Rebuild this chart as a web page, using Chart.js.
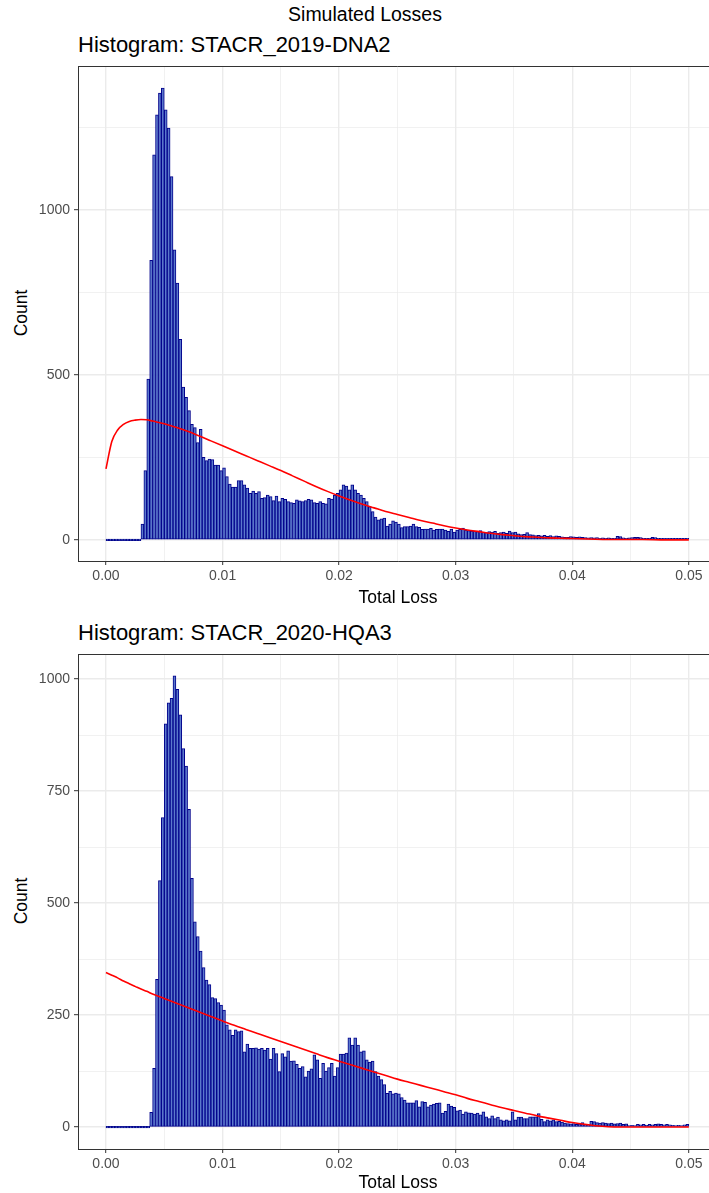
<!DOCTYPE html>
<html lang="en">
<head>
<meta charset="UTF-8">
<title>Simulated Losses</title>
<script src="https://cdn.jsdelivr.net/npm/chart.js"></script>
<style>
  body { margin: 0; width: 709px; height: 1193px; overflow: hidden; background: #fff; position: relative;
         font-family: "Liberation Sans", Arial, sans-serif; }
  .txt { position: absolute; white-space: nowrap; color: #000; line-height: 1; }
  #mainTitle { left: 365px; top: 5px; transform: translateX(-50%); font-size: 19.5px; }
  .ptitle { left: 78px; font-size: 22px; }
  .xtitle { left: 398px; transform: translateX(-50%); font-size: 17.5px; }
  .ytitle { left: 22px; transform: translate(-50%, -50%) rotate(-90deg); font-size: 17.5px; }
  canvas { position: absolute; left: 0; }
</style>
</head>
<body>

<div class="txt" id="mainTitle">Simulated Losses</div>

<div class="txt ptitle" style="top:34px">Histogram: STACR_2019-DNA2</div>
<div class="txt ytitle" style="top:313px">Count</div>
<canvas id="lossA" width="718" height="540" style="top:50px"></canvas>
<div class="txt xtitle" style="top:589px">Total Loss</div>

<div class="txt ptitle" style="top:622px">Histogram: STACR_2020-HQA3</div>
<div class="txt ytitle" style="top:901px">Count</div>
<canvas id="lossB" width="718" height="540" style="top:638px"></canvas>
<div class="txt xtitle" style="top:1174px">Total Loss</div>

<script>
  // histogram bins: 200 bins of width 0.00025 starting at 0
  const binWidth = 0.00025;

  const countsA = [
    0, 0, 0, 0, 0, 0, 0, 0, 0, 0,
    0, 0, 48, 210, 487, 847, 1167, 1288, 1354, 1369,
    1303, 1248, 1101, 879, 778, 608, 463, 432, 392, 350,
    340, 295, 335, 250, 240, 245, 243, 227, 227, 210,
    218, 192, 169, 160, 160, 180, 180, 167, 157, 141,
    148, 141, 146, 126, 128, 136, 131, 119, 133, 116,
    126, 123, 116, 113, 111, 121, 118, 116, 119, 123,
    121, 113, 111, 116, 111, 109, 126, 124, 136, 141,
    152, 167, 163, 152, 167, 152, 141, 136, 126, 116,
    101, 86, 69, 61, 64, 66, 42, 48, 58, 54,
    48, 37, 40, 40, 42, 48, 40, 38, 32, 33,
    33, 35, 30, 32, 33, 33, 30, 26, 33, 24,
    30, 32, 36, 30, 28, 27, 26, 25, 28, 24,
    22, 25, 24, 26, 20, 22, 24, 20, 27, 22,
    24, 18, 16, 17, 22, 16, 15, 13, 14, 12,
    14, 11, 13, 10, 12, 11, 9, 8, 8, 10,
    9, 8, 9, 8, 7, 6, 7, 6, 7, 5,
    6, 5, 6, 4, 5, 11, 10, 6, 5, 6,
    7, 8, 8, 7, 4, 5, 4, 8, 7, 4,
    5, 3, 4, 5, 3, 4, 3, 4, 3, 3
  ];

  const countsB = [
    0, 0, 0, 0, 0, 0, 0, 0, 0, 0,
    0, 0, 0, 0, 0, 33, 131, 330, 550, 691,
    900, 947, 957, 1007, 977, 920, 845, 806, 709, 555,
    458, 425, 393, 356, 328, 318, 289, 287, 278, 272,
    261, 228, 217, 205, 217, 213, 215, 168, 185, 176,
    176, 177, 174, 176, 172, 176, 152, 176, 164, 124,
    164, 157, 170, 147, 148, 140, 131, 135, 112, 125,
    130, 161, 150, 109, 142, 125, 133, 142, 114, 133,
    163, 163, 165, 199, 183, 199, 183, 168, 170, 150,
    145, 147, 124, 114, 106, 95, 75, 80, 74, 76,
    74, 66, 60, 54, 54, 54, 59, 45, 57, 55,
    45, 49, 51, 53, 54, 31, 35, 51, 47, 44,
    36, 38, 29, 34, 32, 31, 29, 31, 27, 34,
    23, 19, 25, 19, 22, 16, 14, 16, 14, 34,
    16, 22, 22, 19, 19, 23, 23, 23, 30, 17,
    12, 16, 14, 16, 12, 13, 11, 9, 8, 7,
    8, 6, 7, 10, 6, 5, 13, 12, 10, 9,
    10, 9, 8, 9, 7, 8, 9, 6, 7, 3,
    4, 3, 6, 5, 6, 4, 6, 5, 6, 7,
    6, 5, 6, 5, 4, 3, 4, 3, 5, 6
  ];

  // fitted density curves (scaled to counts), read at these x values
  const curveX = [0, 0.0005, 0.001, 0.0015, 0.002, 0.0025, 0.003, 0.0035, 0.004,
    0.005, 0.006, 0.007, 0.008, 0.009, 0.010, 0.011, 0.012, 0.013, 0.014, 0.015,
    0.016, 0.017, 0.018, 0.019, 0.020, 0.021, 0.022, 0.023, 0.024, 0.025,
    0.026, 0.027, 0.028, 0.029, 0.030, 0.031, 0.032, 0.033, 0.034, 0.035,
    0.036, 0.037, 0.038, 0.039, 0.040, 0.042, 0.044, 0.046, 0.048, 0.050];
  const curveA = [215, 298, 333, 350, 359, 363, 365, 364, 360,
    352, 341, 329, 315, 300, 285, 270, 255, 240, 225, 210,
    194, 178, 162, 147, 133, 120, 108, 97, 86, 77,
    68, 59, 51, 43, 36, 30, 25, 20, 16, 13,
    10, 8, 6, 5, 4, 2, 1, 1, 0, 0];
  const curveB = [345, 339, 333, 326, 320, 314, 308, 303, 297,
    287, 277, 267, 257, 247, 237, 227, 218, 209, 200, 191,
    182, 173, 164, 155, 147, 139, 131, 123, 115, 107,
    100, 93, 86, 79, 72, 64, 57, 50, 43, 37,
    31, 25, 20, 15, 10, 3, 0, 0, 0, 0];

  const xMajor = [0, 0.01, 0.02, 0.03, 0.04, 0.05];
  const xMinor = [0.005, 0.015, 0.025, 0.035, 0.045];
  const yMajorA = [0, 500, 1000];
  const yMinorA = [250, 750, 1250];
  const yMajorB = [0, 250, 500, 750, 1000];
  const yMinorB = [125, 375, 625, 875];

  Chart.defaults.font.family = '"Liberation Sans", Arial, sans-serif';

  // ggplot-style panel border on top and right
  const panelFrame = {
    id: 'panelFrame',
    afterDatasetsDraw(chart) {
      const a = chart.chartArea, ctx = chart.ctx;
      ctx.save();
      ctx.strokeStyle = '#333333';
      ctx.lineWidth = 1;
      ctx.beginPath();
      ctx.moveTo(a.left, a.top + 0.5);
      ctx.lineTo(a.right - 0.5, a.top + 0.5);
      ctx.lineTo(a.right - 0.5, a.bottom);
      ctx.stroke();
      ctx.restore();
    }
  };

  function axisTicks(major, minor) {
    return major.concat(minor).sort((p, q) => p - q).map(v => ({ value: v }));
  }

  function drawPanel(id, counts, curve, yLim, yMajor, yMinor) {
    const bars = counts.map((c, i) => ({ x: (i + 0.5) * binWidth, y: c }));
    const line = curveX.map((x, i) => ({ x: x, y: curve[i] }));
    const isMinorX = ctx => ctx.tick && xMinor.includes(ctx.tick.value);
    const isMinorY = ctx => ctx.tick && yMinor.includes(ctx.tick.value);

    return new Chart(document.getElementById(id), {
      type: 'bar',
      data: {
        datasets: [
          { type: 'line', data: line, borderColor: '#FF0000', borderWidth: 1.6,
            pointRadius: 0, cubicInterpolationMode: 'monotone', order: 0 },
          { data: bars, backgroundColor: '#5b79cc', borderColor: '#00008B', borderWidth: 1,
            borderSkipped: false, minBarLength: 1.5, barPercentage: 1, categoryPercentage: 1,
            grouped: false, order: 1 }
        ]
      },
      options: {
        responsive: false,
        animation: false,
        devicePixelRatio: 1,
        events: [],
        layout: { padding: { top: 16, left: 0, right: 0, bottom: 0 } },
        plugins: { legend: { display: false }, tooltip: { enabled: false } },
        scales: {
          x: {
            type: 'linear', min: -0.0024, max: 0.0525, offset: false,
            afterFit: s => { s.height = 29; },
            afterBuildTicks: s => { s.ticks = axisTicks(xMajor, xMinor); },
            ticks: { autoSkip: false, maxRotation: 0, padding: 3, color: '#4D4D4D', font: { size: 14 },
                     callback: v => xMajor.includes(v) ? v.toFixed(2) : '' },
            grid: { offset: false, color: '#EBEBEB', lineWidth: c => isMinorX(c) ? 0.7 : 1.4,
                    tickLength: 4, tickWidth: 1, tickColor: c => isMinorX(c) ? 'rgba(0,0,0,0)' : '#333333' },
            border: { color: '#333333', width: 1 }
          },
          y: {
            min: yLim[0], max: yLim[1],
            afterFit: s => { s.width = 78; },
            afterBuildTicks: s => { s.ticks = axisTicks(yMajor, yMinor); },
            ticks: { autoSkip: false, padding: 4, color: '#4D4D4D', font: { size: 14 },
                     callback: v => yMajor.includes(v) ? String(v) : '' },
            grid: { color: '#EBEBEB', lineWidth: c => isMinorY(c) ? 0.7 : 1.4,
                    tickLength: 4, tickWidth: 1, tickColor: c => isMinorY(c) ? 'rgba(0,0,0,0)' : '#333333' },
            border: { color: '#333333', width: 1 }
          }
        }
      },
      plugins: [panelFrame]
    });
  }

  drawPanel('lossA', countsA, curveA, [-64, 1436], yMajorA, yMinorA);
  drawPanel('lossB', countsB, curveB, [-49, 1056], yMajorB, yMinorB);
</script>
</body>
</html>
